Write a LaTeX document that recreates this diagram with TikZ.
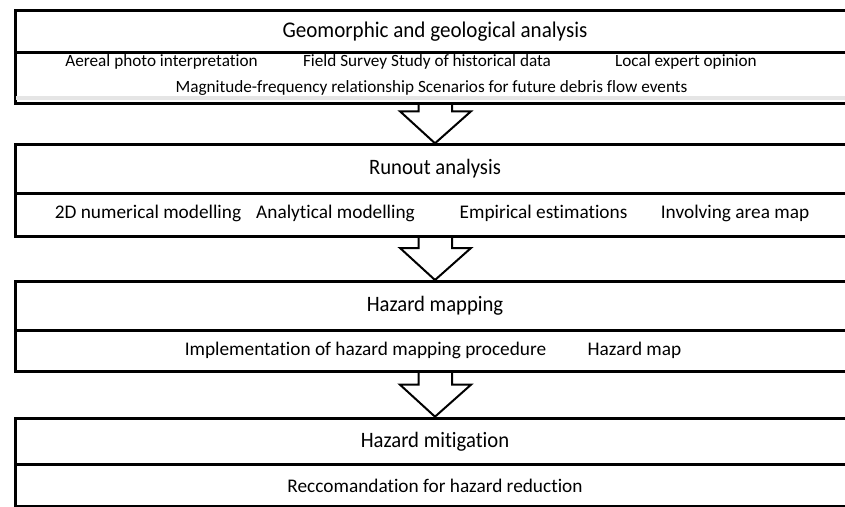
\documentclass[tikz,border=0pt]{standalone}
\usepackage{fontspec}
\setmainfont[Ligatures=NoCommon]{Carlito}
\newfontfamily\ttlfont[FakeStretch=0.94,Ligatures=NoCommon]{Carlito}
\begin{document}
\begin{tikzpicture}[x=1pt,y=-1pt,
  row/.style={draw, line width=3pt, rectangle, minimum width=840pt, inner sep=0pt, anchor=north west},
  ttl/.style={font=\ttlfont\fontsize{22}{26}\selectfont},
  ttla/.style={font=\ttlfont\fontsize{22.4}{26}\selectfont},
  sub/.style={font=\fontsize{19.3}{22}\selectfont, inner sep=0pt},
  suba/.style={font=\fontsize{17.2}{20}\selectfont, inner sep=0pt},
  blockarrow/.style={draw, line width=2pt, line join=miter}]
\useasboundingbox (0,0) rectangle (845,506);
\clip (0,0) rectangle (845,506);
% box 1
\node[row, minimum height=42pt, ttla] (t1) at (13.5,9) {Geomorphic and geological analysis};
\node[row, minimum height=51pt] (s1) at (13.5,51) {};
\fill[black!10] (15.5,96) rectangle (850,100);
\node[suba] (a1) at (161.5,62) {Aereal photo interpretation};
\node[suba] (a2) at (427,62) {Field Survey Study of historical data};
\node[suba] (a3) at (686,62) {Local expert opinion};
\node[suba] (a4) at (431.5,88) {Magnitude-frequency relationship Scenarios for future debris flow events};
% box 2
\node[row, minimum height=48.4pt, ttl] (t2) at (13.5,143.3) {Runout analysis};
\node[row, minimum height=43.3pt] (s2) at (13.5,191.7) {};
\node[sub] (b1) at (148,213) {2D numerical modelling};
\node[sub] (b2) at (335.5,213) {Analytical modelling};
\node[sub] (b3) at (543.5,213) {Empirical estimations};
\node[sub] (b4) at (735,213) {Involving area map};
% box 3
\node[row, minimum height=49.3pt, ttl] (t3) at (13.5,280) {Hazard mapping};
\node[row, minimum height=40.7pt] (s3) at (13.5,329.3) {};
\node[sub] (c1) at (365.5,350) {Implementation of hazard mapping procedure};
\node[sub] (c2) at (634.5,350) {Hazard map};
% box 4
\node[row, minimum height=46.6pt, ttl] (t4) at (13.5,416.7) {Hazard mitigation};
\node[row, minimum height=41.7pt, sub] (s4) at (13.5,463.3) {Reccomandation for hazard reduction};
% arrows
\foreach \u/\l in {s1/t2, s2/t3, s3/t4}{
  \draw[blockarrow] ([xshift=-16.5pt]\u.south) -- ([xshift=-16.5pt,yshift=32pt]\l.north)
    -- ([xshift=-35pt,yshift=32pt]\l.north) -- (\l.north)
    -- ([xshift=36pt,yshift=32pt]\l.north) -- ([xshift=17pt,yshift=32pt]\l.north)
    -- ([xshift=17pt]\u.south);
}
\end{tikzpicture}
\end{document}
